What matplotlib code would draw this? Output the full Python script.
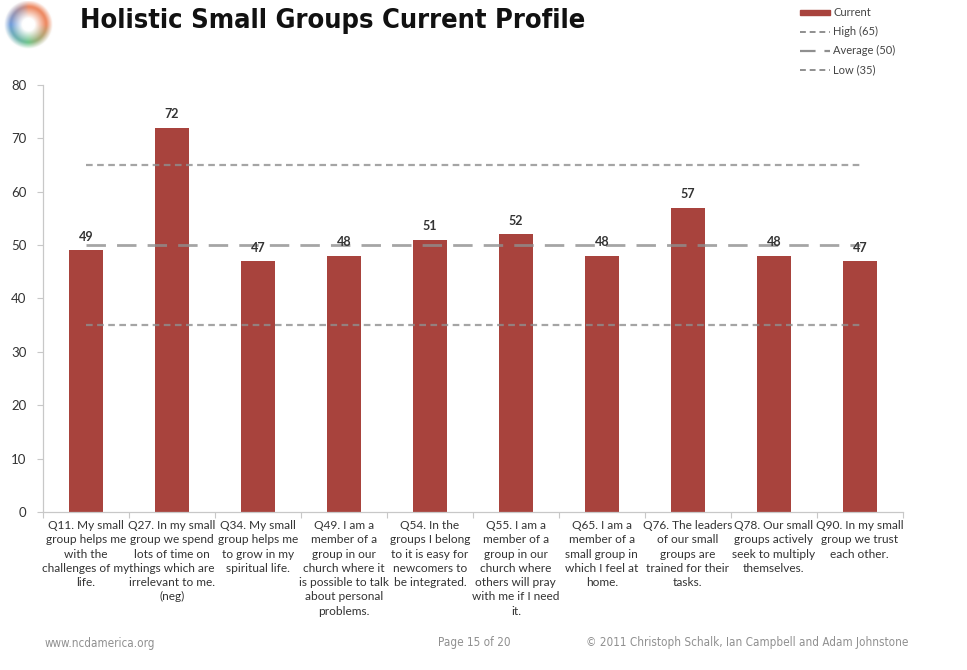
import numpy as np
import matplotlib
matplotlib.use("Agg")
import matplotlib.pyplot as plt
from matplotlib.lines import Line2D
from matplotlib.patches import Patch

# ---- data ----
questions = [
    "Q11. My small\ngroup helps me\nwith the\nchallenges of my\nlife.",
    "Q27. In my small\ngroup we spend\nlots of time on\nthings which are\nirrelevant to me.\n(neg)",
    "Q34. My small\ngroup helps me\nto grow in my\nspiritual life.",
    "Q49. I am a\nmember of a\ngroup in our\nchurch where it\nis possible to talk\nabout personal\nproblems.",
    "Q54. In the\ngroups I belong\nto it is easy for\nnewcomers to\nbe integrated.",
    "Q55. I am a\nmember of a\ngroup in our\nchurch where\nothers will pray\nwith me if I need\nit.",
    "Q65. I am a\nmember of a\nsmall group in\nwhich I feel at\nhome.",
    "Q76. The leaders\nof our small\ngroups are\ntrained for their\ntasks.",
    "Q78. Our small\ngroups actively\nseek to multiply\nthemselves.",
    "Q90. In my small\ngroup we trust\neach other.",
]
current = [49, 72, 47, 48, 51, 52, 48, 57, 48, 47]
high_level = 65
average_level = 50
low_level = 35
y_ticks = [0, 10, 20, 30, 40, 50, 60, 70, 80]

bar_color = "#A8433D"
ref_color = "#8f8f8f"
text_font = ["Lato", "DejaVu Sans"]

fig = plt.figure(figsize=(9.67, 6.70), dpi=100)
fig.patch.set_facecolor("white")

ax = fig.add_axes([0.0445, 0.236, 0.889, 0.637])
x = np.arange(len(questions))
ax.bar(x, current, width=0.40, color=bar_color, zorder=2, label="Current")

# reference levels drawn as line series across the category centres
n = len(questions)
ax.plot(x, [high_level] * n, color=ref_color, lw=1.6, ls=(0, (3, 2)),
        alpha=0.8, zorder=3, label="High (65)")
ax.plot(x, [average_level] * n, color=ref_color, lw=2.0, ls=(0, (7, 4)),
        alpha=0.8, zorder=3, label="Average (50)")
ax.plot(x, [low_level] * n, color=ref_color, lw=1.6, ls=(0, (3, 2)),
        alpha=0.8, zorder=3, label="Low (35)")

for xi, v in zip(x, current):
    ax.text(xi, v + 1.4, f"{v}", ha="center", va="bottom", fontsize=9,
            fontweight="bold", color="#333333", family=text_font, zorder=4)

ax.set_xlim(-0.5, n - 0.5)
ax.set_ylim(0, 80)
ax.set_yticks(y_ticks)
ax.set_yticklabels([str(t) for t in y_ticks], fontsize=9.5, color="#333333",
                   family=text_font)
ax.set_xticks(x)
ax.set_xticklabels(questions, fontsize=8.6, color="#333333", family=text_font,
                   linespacing=1.36, va="top")
ax.tick_params(axis="x", length=0, pad=6)
ax.set_xticks(np.arange(-0.5, n, 1.0), minor=True)
ax.tick_params(axis="x", which="minor", length=4, color="#c8c8c8", width=0.8)
ax.tick_params(axis="y", length=4, color="#c8c8c8", width=0.8, pad=8)

for side in ("top", "right"):
    ax.spines[side].set_visible(False)
for side in ("left", "bottom"):
    ax.spines[side].set_color("#c8c8c8")
    ax.spines[side].set_linewidth(0.9)

# legend
handles = [
    Patch(facecolor=bar_color, edgecolor=bar_color),
    Line2D([], [], color=ref_color, lw=1.4, ls=(0, (3, 2))),
    Line2D([], [], color=ref_color, lw=1.6, ls=(0, (7, 4))),
    Line2D([], [], color=ref_color, lw=1.4, ls=(0, (3, 2))),
]
labels = ["Current", "High (65)", "Average (50)", "Low (35)"]
leg = fig.legend(handles, labels, loc="upper left", bbox_to_anchor=(0.817, 1.004),
                 frameon=False, handlelength=2.7, handleheight=0.4,
                 handletextpad=0.3, labelspacing=0.72,
                 prop={"family": text_font, "size": 8})
for t in leg.get_texts():
    t.set_color("#444444")

# title
fig.text(0.083, 0.968, "Holistic Small Groups Current Profile", fontsize=19.5,
         fontweight="bold", color="#111111", va="center", ha="left",
         family=["DejaVu Sans"], stretch="condensed")

# swirl logo in the corner
logo = fig.add_axes([0.004, 0.925, 0.050, 0.075])
gy, gx = np.mgrid[-1:1:120j, -1:1:120j]
ang = np.arctan2(gy, gx)
rad = np.hypot(gx, gy)
blue = np.array([0.45, 0.62, 0.86])
green = np.array([0.45, 0.78, 0.55])
orange = np.array([0.93, 0.55, 0.40])
w_blue = np.clip(np.cos(ang - np.pi), 0, None)
w_green = np.clip(np.cos(ang - np.pi / 2), 0, None)
w_orange = np.clip(np.cos(ang), 0, None) + np.clip(np.cos(ang + np.pi / 2), 0, None) * 0.6
wsum = w_blue + w_green + w_orange + 1e-6
col = (w_blue[..., None] * blue + w_green[..., None] * green
       + w_orange[..., None] * orange) / wsum[..., None]
fade = np.clip((rad - 0.25) / 0.45, 0, 1) * np.clip((1.0 - rad) / 0.25, 0, 1)
img = col * fade[..., None] + (1 - fade[..., None])
logo.imshow(img, origin="upper", interpolation="bilinear")
logo.axis("off")

# footer
foot_color = "#909090"
foot_font = ["DejaVu Sans"]
fig.text(0.046, 0.040, "www.ncdamerica.org", fontsize=8.4, color=foot_color,
         family=foot_font, stretch="condensed", va="center")
fig.text(0.453, 0.041, "Page 15 of 20", fontsize=8.4, color=foot_color,
         family=foot_font, stretch="condensed", va="center")
fig.text(0.606, 0.041, "\u00a9 2011 Christoph Schalk, Ian Campbell and Adam Johnstone",
         fontsize=8.4, color=foot_color, family=foot_font, stretch="condensed",
         va="center")

fig.savefig("out.png", dpi=100, facecolor="white")
